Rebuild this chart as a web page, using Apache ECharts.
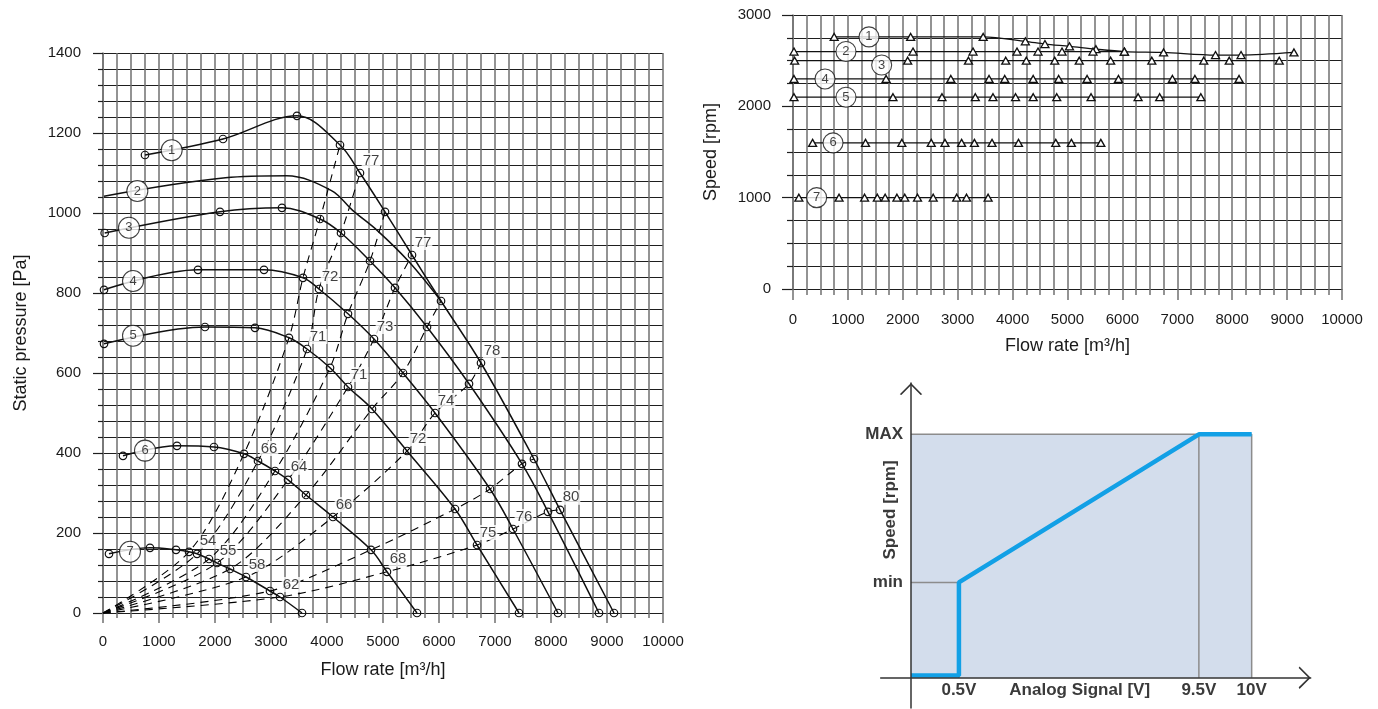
<!DOCTYPE html>
<html>
<head>
<meta charset="utf-8">
<title>Fan characteristics</title>
<script src="https://cdn.jsdelivr.net/npm/echarts@6/dist/echarts.min.js"></script>
<style>
html, body { margin: 0; padding: 0; background: #fff; }
#chart { width: 1378px; height: 709px; }
</style>
</head>
<body>
<div id="chart"></div>
<script>
// operating points of speed steps 1..7 : flow [m3/h], static pressure [Pa], speed [rpm]
var flow1 = [750, 2143, 3464, 4232, 4589, 5036, 5518, 6036, 6750, 7696, 8161, 9125];
var pres1 = [1145, 1185, 1243, 1170, 1100, 1003, 895, 780, 625, 385, 258, 0];
var rpm1  = [2760, 2760, 2760, 2712, 2682, 2657, 2626, 2600, 2590, 2561, 2561, 2590];

var flow2 = [18, 2186, 3279, 4080, 4463, 4900, 5464, 6036];
var pres2 = [1042, 1088, 1093, 1056, 1006, 956, 878, 780];
var rpm2  = [2600, 2600, 2600, 2600, 2600, 2600, 2600, 2600];

var flow3 = [30, 2089, 3196, 3875, 4250, 4768, 5214, 5786, 6536, 7482, 7946, 8857];
var pres3 = [950, 1003, 1013, 985, 950, 880, 813, 715, 573, 373, 253, 0];
var rpm3  = [2500, 2500, 2500, 2500, 2500, 2500, 2500, 2500, 2500, 2500, 2500, 2500];

var flow4 = [18, 1696, 2875, 3571, 3857, 4375, 4839, 5357, 5929, 6911, 7321, 8125];
var pres4 = [808, 858, 858, 838, 810, 748, 685, 600, 500, 310, 210, 0];
var rpm4  = [2300, 2300, 2300, 2300, 2300, 2300, 2300, 2300, 2300, 2300, 2300, 2300];

var flow5 = [18, 1821, 2714, 3321, 3643, 4054, 4375, 4804, 5429, 6286, 6679, 7429];
var pres5 = [673, 715, 713, 688, 660, 613, 565, 510, 405, 260, 170, 0];
var rpm5  = [2100, 2100, 2100, 2100, 2100, 2100, 2100, 2100, 2100, 2100, 2100, 2100];

var flow6 = [357, 1321, 1982, 2518, 2768, 3071, 3304, 3625, 4107, 4786, 5071, 5607];
var pres6 = [393, 418, 415, 398, 380, 355, 333, 295, 240, 158, 103, 0];
var rpm6  = [1600, 1600, 1600, 1600, 1600, 1600, 1600, 1600, 1600, 1600, 1600, 1600];

var flow7 = [107, 839, 1304, 1536, 1679, 1893, 2036, 2268, 2554, 2982, 3161, 3554];
var pres7 = [148, 163, 158, 153, 148, 135, 125, 110, 90, 55, 40, 0];
var rpm7  = [1000, 1000, 1000, 1000, 1000, 1000, 1000, 1000, 1000, 1000, 1000, 1000];

// number badges (where the step number sits on each curve)
var badgeFlow = [1226, 613, 464, 536, 536, 750, 482];
var badgePres = [1157, 1055, 963, 830, 693, 406, 153];
var badgeSpeedFlow = [1384, 965, 1615, 583, 965, 729, 431];
var badgeRpm = [2760, 2600, 2453, 2300, 2100, 1600, 1000];

// system curves (dashed) run through the same point index on every step
var firstSystemPoint = 3;
var systemCount = 8;
var labelledSystems = [1, 3, 5, 7];
var labelledCurves = [1, 4, 5, 6, 7];
var noiseLevels = [
  [77, 72, 71, 66, 54],
  [77, 73, 71, 64, 55],
  [78, 74, 72, 66, 58],
  [80, 76, 75, 68, 62]
];

// control diagram (schematic, not to scale)
var signalLabels = ['0.5V', '9.5V', '10V'];
var signalAt = [1, 6, 7.1];
var speedLabels = ['min', 'MAX'];
var speedAt = [39.2, 100];
var offSpeed = 1;

var FONT = 'Arial, "Liberation Sans", Helvetica, sans-serif';
var INK = '#1a1a1a';
var GRIDV = '#707070';
var GRIDH = '#1e1e1e';
var CHEVRON = 'path://M0,10 L10,0 L20,10 L18.6,10.7 L10,2 L1.4,10.7 Z';

var curves = [
  {f: flow1, p: pres1, s: rpm1},
  {f: flow2, p: pres2, s: rpm2},
  {f: flow3, p: pres3, s: rpm3},
  {f: flow4, p: pres4, s: rpm4},
  {f: flow5, p: pres5, s: rpm5},
  {f: flow6, p: pres6, s: rpm6},
  {f: flow7, p: pres7, s: rpm7}
];

function zip(a, b) {
  return a.map(function (v, i) { return [v, b[i]]; });
}

function plain(v) { return String(v); }

function flowAxis(grid, labelMargin, nameGap) {
  return {
    type: 'value', gridIndex: grid, min: 0, max: 10000, interval: 1000,
    name: 'Flow rate [m\u00b3/h]', nameLocation: 'middle', nameGap: nameGap,
    nameTextStyle: {fontSize: 18, color: INK, fontFamily: FONT},
    axisLine: {show: true, onZero: false, lineStyle: {color: GRIDH, width: 1.2}},
    axisTick: {show: true, length: grid === 0 ? 10 : 11, lineStyle: {color: GRIDV, width: 1.5}},
    minorTick: {show: true, splitNumber: 4, length: grid === 0 ? 5 : 6, lineStyle: {color: GRIDV, width: 1.5}},
    splitLine: {show: true, lineStyle: {color: GRIDV, width: 1.5}},
    minorSplitLine: {show: true, lineStyle: {color: GRIDV, width: 1.5}},
    axisLabel: {margin: labelMargin, fontSize: 15, color: INK, fontFamily: FONT, formatter: plain}
  };
}

function valueAxis(grid, max, interval, minorSplit, name) {
  return {
    type: 'value', gridIndex: grid, min: 0, max: max, interval: interval,
    name: name, nameLocation: 'middle', nameGap: 73,
    nameTextStyle: {fontSize: 18, color: INK, fontFamily: FONT},
    axisLine: {show: true, onZero: false, lineStyle: {color: GRIDV, width: 1.5}},
    axisTick: {show: true, length: grid === 0 ? 10 : 11, lineStyle: {color: GRIDH, width: 1.2}},
    minorTick: {show: true, splitNumber: minorSplit, length: grid === 0 ? 5 : 6, lineStyle: {color: GRIDH, width: 1.2}},
    splitLine: {show: true, lineStyle: {color: GRIDH, width: 1.2}},
    minorSplitLine: {show: true, lineStyle: {color: GRIDH, width: 1.2}},
    axisLabel: {margin: 22, fontSize: 15, color: INK, fontFamily: FONT, formatter: plain}
  };
}

var series = [];

// dashed system curves through the origin
for (var j = 0; j < systemCount; j++) {
  var idx = firstSystemPoint + j;
  var pts = [[0, 0]];
  [7, 6, 5, 4, 3, 1].forEach(function (c) {
    var cv = curves[c - 1];
    pts.push([cv.f[idx], cv.p[idx]]);
  });
  series.push({
    type: 'line', xAxisIndex: 0, yAxisIndex: 0, data: pts,
    smooth: 0.3, symbol: 'none', silent: true, z: 2,
    lineStyle: {color: '#000', width: 1.1, type: [8, 6]}
  });
}

// fan curves, pressure chart
curves.forEach(function (cv, i) {
  series.push({
    type: 'line', xAxisIndex: 0, yAxisIndex: 0, data: zip(cv.f, cv.p),
    smooth: 0.35,
    symbol: i === 1 ? 'none' : 'circle', symbolSize: 7.5,
    itemStyle: {color: 'rgba(255,255,255,0)', borderColor: '#111', borderWidth: 1.2},
    lineStyle: {color: '#111', width: 1.5}, z: 3
  });
});

// speed curves
curves.forEach(function (cv) {
  series.push({
    type: 'line', xAxisIndex: 1, yAxisIndex: 1, data: zip(cv.f, cv.s),
    smooth: 0.3,
    symbol: 'triangle', symbolSize: [8, 7],
    itemStyle: {color: '#fff', borderColor: '#111', borderWidth: 1.3},
    lineStyle: {color: '#111', width: 1.3}, z: 3
  });
});

// sound power labels at the system curve crossings
var noiseData = [];
labelledSystems.forEach(function (s, k) {
  labelledCurves.forEach(function (c, m) {
    var cv = curves[c - 1];
    var n = firstSystemPoint + s;
    noiseData.push({value: [cv.f[n], cv.p[n]], label: {formatter: String(noiseLevels[k][m])}});
  });
});
series.push({
  type: 'scatter', xAxisIndex: 0, yAxisIndex: 0, data: noiseData,
  symbolSize: 8, itemStyle: {color: 'rgba(255,255,255,0)'}, silent: true, z: 4,
  label: {show: true, position: 'top', distance: 1, offset: [11, 0], fontSize: 15,
    color: '#111', fontFamily: FONT, backgroundColor: '#fff', padding: [0, 1, 0, 1]}
});

// step number badges
function badgeSeries(xi, xs, ys) {
  return {
    type: 'scatter', xAxisIndex: xi, yAxisIndex: xi,
    data: xs.map(function (x, i) { return {value: [x, ys[i]], label: {formatter: String(i + 1)}}; }),
    symbol: 'circle', symbolSize: xi === 0 ? 21 : 20, silent: true, z: 5,
    itemStyle: {color: '#fff', borderColor: '#111', borderWidth: 1.1},
    label: {show: true, position: 'inside', fontSize: 13, color: '#111', fontFamily: FONT}
  };
}
series.push(badgeSeries(0, badgeFlow, badgePres));
series.push(badgeSeries(1, badgeSpeedFlow, badgeRpm));

// control diagram
var vLow = signalAt[0], vHigh = signalAt[1], vEnd = signalAt[2];
var sMin = speedAt[0], sMax = speedAt[1];
series.push({
  type: 'line', xAxisIndex: 2, yAxisIndex: 2, symbol: 'none', silent: true, z: 1,
  data: [[0, sMax], [vEnd, sMax], [vEnd, 0]],
  lineStyle: {color: '#8c8c8c', width: 1.5},
  areaStyle: {color: '#d3ddec', opacity: 1}
});
series.push({
  type: 'line', xAxisIndex: 2, yAxisIndex: 2, symbol: 'none', silent: true, z: 2,
  data: [[0, sMin], [vLow, sMin], [vLow, 0]],
  lineStyle: {color: '#8c8c8c', width: 1.5}
});
series.push({
  type: 'line', xAxisIndex: 2, yAxisIndex: 2, symbol: 'none', silent: true, z: 2,
  data: [[vHigh, sMax], [vHigh, 0]],
  lineStyle: {color: '#8c8c8c', width: 1.5}
});
series.push({
  type: 'line', xAxisIndex: 2, yAxisIndex: 2, symbol: 'none', silent: true, z: 3,
  data: [[0, offSpeed], [vLow, offSpeed], [vLow, sMin], [vHigh, sMax], [vEnd, sMax]],
  lineStyle: {color: '#12a0e6', width: 4.5}
});

var diagLabel = {fontSize: 17, fontWeight: 'bold', color: '#3a3a3a', fontFamily: FONT};

var chart = echarts.init(document.getElementById('chart'));
chart.setOption({
  animation: false,
  backgroundColor: '#fff',
  grid: [
    {left: 103, top: 53, width: 560, height: 560, outerBoundsMode: 'none'},
    {left: 793, top: 15, width: 549, height: 274, outerBoundsMode: 'none'},
    {left: 880.7, top: 383, width: 430, height: 325, outerBoundsMode: 'none'}
  ],
  xAxis: [
    flowAxis(0, 21, 48),
    flowAxis(1, 23, 48),
    {
      type: 'value', gridIndex: 2, min: -0.63, max: 8.33, z: 6,
      position: 'bottom', offset: -30.3,
      name: 'Analog Signal [V]', nameLocation: 'middle', nameGap: 4, nameMoveOverlap: false,
      nameTextStyle: Object.assign({padding: [0, 32, 0, 0]}, diagLabel),
      axisLine: {show: true, onZero: false, symbol: ['none', CHEVRON], symbolSize: [24, 12],
        symbolOffset: [0, -6], lineStyle: {color: '#333', width: 1.5}},
      axisTick: {show: false}, splitLine: {show: false},
      axisLabel: Object.assign({
        customValues: signalAt, margin: 4,
        formatter: function (v) { return signalLabels[signalAt.indexOf(v)]; }
      }, diagLabel)
    }
  ],
  yAxis: [
    valueAxis(0, 1400, 200, 5, 'Static pressure [Pa]'),
    valueAxis(1, 3000, 1000, 4, 'Speed [rpm]'),
    {
      type: 'value', gridIndex: 2, min: -12.4, max: 121.1, z: 6,
      position: 'left', offset: -30.3,
      name: 'Speed [rpm]', nameLocation: 'middle', nameGap: 12, nameRotate: 90, nameMoveOverlap: false,
      nameTextStyle: Object.assign({padding: [0, 0, 0, 71]}, diagLabel),
      axisLine: {show: true, onZero: false, symbol: ['none', CHEVRON], symbolSize: [24, 12],
        symbolOffset: [0, -6], lineStyle: {color: '#333', width: 1.5}},
      axisTick: {show: false}, splitLine: {show: false},
      axisLabel: Object.assign({
        customValues: speedAt, margin: 8,
        formatter: function (v) { return speedLabels[speedAt.indexOf(v)]; }
      }, diagLabel)
    }
  ],
  series: series
});
</script>
</body>
</html>
